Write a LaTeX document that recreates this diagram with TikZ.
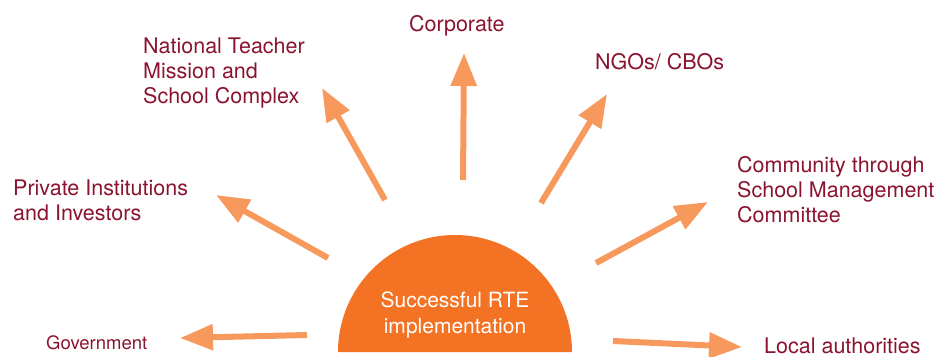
\documentclass[tikz,border=0pt]{standalone}
\usepackage{fontspec}
\setmainfont{TeX Gyre Heros}
\usetikzlibrary{arrows.meta}
\definecolor{sunorange}{HTML}{F37224}
\definecolor{rayorange}{HTML}{F7995C}
\definecolor{labelred}{HTML}{8A1330}
\begin{document}
\begin{tikzpicture}[x=1pt,y=-1pt,
  ray/.style={draw=rayorange,line width=6pt,-{Triangle[length=33pt,width=25pt]}},
  lbl/.style={inner sep=0pt,text=labelred,font=\fontsize{21.5}{25}\selectfont,align=left},
  smalllbl/.style={inner sep=0pt,text=labelred,font=\fontsize{18.5}{22}\selectfont},
  suntext/.style={inner sep=0pt,text=white,font=\fontsize{21}{25.6}\selectfont,align=center}]
\useasboundingbox (0,0) rectangle (949,356);
% sun (semicircle)
\fill[sunorange] (338,352) arc[start angle=180,end angle=360,radius=117] -- cycle;
\node[suntext,anchor=north] (sun) at (455,291.6) {Successful RTE\\implementation};
% labels
\node[lbl,anchor=north west] (nat) at (143,37.6) {National Teacher\\Mission and\\School Complex};
\node[lbl,anchor=base west] (corp) at (409,31) {Corporate};
\node[lbl,anchor=base west] (ngo) at (595,69) {NGOs/ CBOs};
\node[lbl,anchor=north west] (priv) at (13,179.6) {Private Institutions\\and Investors};
\node[lbl,anchor=north west] (comm) at (737,156.3) {Community through\\School Management\\Committee};
\node[smalllbl,anchor=base west] (gov) at (46,349) {Government};
\node[lbl,anchor=base west] (local) at (764,353) {Local authorities};
% ray ends
\coordinate (govT) at (307,335);   \coordinate (govH) at (180,338);
\coordinate (privT) at (328,258);  \coordinate (privH) at (216,195);
\coordinate (natT) at (385,200);   \coordinate (natH) at (322,88);
\coordinate (corpT) at (463,180);  \coordinate (corpH) at (464,53);
\coordinate (ngoT) at (541,203);   \coordinate (ngoH) at (607,94);
\coordinate (commT) at (596,263);  \coordinate (commH) at (708,202);
\coordinate (localT) at (613,341); \coordinate (localH) at (742,347);
% rays
\draw[ray] (govT) -- (govH);
\draw[ray] (privT) -- (privH);
\draw[ray] (natT) -- (natH);
\draw[ray] (corpT) -- (corpH);
\draw[ray] (ngoT) -- (ngoH);
\draw[ray] (commT) -- (commH);
\draw[ray] (localT) -- (localH);
\end{tikzpicture}
\end{document}
